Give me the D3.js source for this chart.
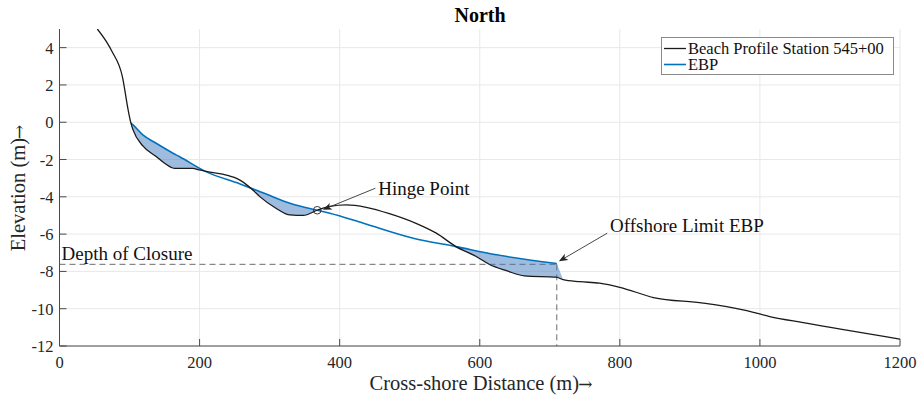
<!DOCTYPE html>
<html>
<head>
<meta charset="utf-8">
<script src="https://cdn.jsdelivr.net/npm/d3@7"></script>
<style>
  html, body { margin: 0; padding: 0; background: #fff; }
  svg { display: block; font-family: "Liberation Serif", "DejaVu Serif", serif; }
</style>
</head>
<body>
<svg id="chart" width="921" height="399"></svg>
<script>
// Surveyed beach profile (cross-shore distance in m, elevation in m)
const profileX = [54, 67, 75, 90, 98, 102, 105, 119, 138, 150, 164, 190, 200, 219, 238, 257, 276, 286, 309, 329, 348, 368, 386, 409, 438, 471, 509, 538, 566, 595, 614, 638, 664, 709, 719, 743, 771, 800, 848, 919, 976, 1014, 1062, 1200];
const profileY = [5.0, 4.32, 3.79, 2.41, 0.66, -0.05, -0.41, -1.27, -1.84, -2.2, -2.47, -2.47, -2.56, -2.7, -2.83, -3.09, -3.63, -3.99, -4.61, -4.97, -5.0, -4.72, -4.51, -4.43, -4.56, -4.9, -5.42, -5.95, -6.67, -7.2, -7.63, -7.96, -8.24, -8.31, -8.44, -8.55, -8.63, -8.85, -9.4, -9.7, -10.06, -10.42, -10.75, -11.63];

// Equilibrium beach profile (EBP)
const ebpX = [102, 105, 119, 138, 162, 171, 209, 257, 295, 329, 368, 386, 434, 505, 566, 624, 710];
const ebpY = [-0.05, -0.14, -0.68, -1.13, -1.66, -1.84, -2.65, -3.3, -3.85, -4.34, -4.72, -4.88, -5.42, -6.22, -6.67, -7.11, -7.58];

// Axis ticks
const xTicks = [0, 200, 400, 600, 800, 1000, 1200];
const yTicks = [-12, -10, -8, -6, -4, -2, 0, 2, 4];
const yTickLabels = ["-12", "-10", "-8", "-6", "-4", "-2", "0", "2", "4"];

// Reference levels and annotated points
const depthOfClosure = -7.62;
const hingePoint = [368, -4.72];
const offshoreLimit = [710, -7.58];
const fillEnd = [719, -8.44];
const hingeLabel = { text: "Hinge Point", at: [455, -3.9], tail: [451, -3.54], tip: [376, -4.69] };
const offshoreLabel = { text: "Offshore Limit EBP", at: [786, -5.88], tail: [782, -5.95], tip: [713, -7.46] };
const closureLabel = { text: "Depth of Closure", at: [3, -7.4] };

const titleText = "North";
const xLabel = "Cross-shore Distance (m)";
const yLabel = "Elevation (m)";
const arrowGlyph = "\u2192";
const legendLabels = ["Beach Profile Station 545+00", "EBP"];

const colBlue = "#0072BD";
const colAxis = "#4a4a4a";
const colGrid = "#e8e8e8";

const svg = d3.select("#chart");
const defs = svg.append("defs");
const x = d3.scaleLinear().domain([0, 1200]).range([59.5, 900]);
const y = d3.scaleLinear().domain([-12, 5]).range([346, 29]);

const profile = profileX.map((d, i) => [d, profileY[i]]);
const ebp = ebpX.map((d, i) => [d, ebpY[i]]);

// grid
const grid = svg.append("g");
grid.selectAll(".gx").data(xTicks).join("line")
  .attr("x1", d => x(d)).attr("x2", d => x(d))
  .attr("y1", y(-12)).attr("y2", y(5))
  .attr("stroke", colGrid).attr("stroke-width", 1);
grid.selectAll(".gy").data(yTicks).join("line")
  .attr("x1", x(0)).attr("x2", x(1200))
  .attr("y1", d => y(d)).attr("y2", d => y(d))
  .attr("stroke", colGrid).attr("stroke-width", 1);

defs.append("clipPath").attr("id", "plotclip")
  .append("rect").attr("x", x(0)).attr("y", y(5)).attr("width", x(1200) - x(0)).attr("height", y(-12) - y(5));

const line = d3.line().x(d => x(d[0])).y(d => y(d[1])).curve(d3.curveMonotoneX);

// region lying above the surveyed profile (used to keep only the EBP-over-profile parts)
const profilePath = line(profile);
defs.append("clipPath").attr("id", "aboveProfile")
  .append("path")
  .attr("d", profilePath + `L${x(1200)},${y(5) - 20}L${x(0) - 20},${y(5) - 20}Z`);

const plot = svg.append("g").attr("clip-path", "url(#plotclip)");

// reference dashed lines for depth of closure / offshore limit
plot.append("line")
  .attr("x1", x(0)).attr("x2", x(offshoreLimit[0]))
  .attr("y1", y(depthOfClosure)).attr("y2", y(depthOfClosure))
  .attr("stroke", "#6b6b6b").attr("stroke-width", 1).attr("stroke-dasharray", "6,4");
plot.append("line")
  .attr("x1", x(offshoreLimit[0])).attr("x2", x(offshoreLimit[0]))
  .attr("y1", y(depthOfClosure)).attr("y2", y(-12))
  .attr("stroke", "#6b6b6b").attr("stroke-width", 1).attr("stroke-dasharray", "6,4");

// shaded area: below the EBP and above the surveyed profile
const underEbp = line(ebp) +
  `L${x(fillEnd[0])},${y(fillEnd[1])}L${x(fillEnd[0])},${y(-12)}L${x(ebpX[0])},${y(-12)}Z`;
plot.append("g").attr("clip-path", "url(#aboveProfile)")
  .append("path")
  .attr("d", underEbp)
  .attr("fill", "#4078be").attr("fill-opacity", 0.5).attr("stroke", "none");

plot.append("path").attr("d", line(ebp))
  .attr("fill", "none").attr("stroke", colBlue).attr("stroke-width", 1.6);
plot.append("path").attr("d", profilePath)
  .attr("fill", "none").attr("stroke", "#1a1a1a").attr("stroke-width", 1.3);

// hinge point marker
plot.append("circle")
  .attr("cx", x(hingePoint[0])).attr("cy", y(hingePoint[1])).attr("r", 3.8)
  .attr("fill", "none").attr("stroke", "#222").attr("stroke-width", 0.9);

// axes: left and bottom lines with inward ticks
const ax = svg.append("g");
ax.append("line").attr("x1", x(0)).attr("x2", x(1200)).attr("y1", y(-12)).attr("y2", y(-12))
  .attr("stroke", colAxis).attr("stroke-width", 1);
ax.append("line").attr("x1", x(0)).attr("x2", x(0)).attr("y1", y(-12)).attr("y2", y(5))
  .attr("stroke", colAxis).attr("stroke-width", 1);
ax.selectAll(".tx").data(xTicks).join("line")
  .attr("x1", d => x(d)).attr("x2", d => x(d)).attr("y1", y(-12)).attr("y2", y(-12) - 7)
  .attr("stroke", colAxis).attr("stroke-width", 1);
ax.selectAll(".ty").data(yTicks).join("line")
  .attr("x1", x(0)).attr("x2", x(0) + 7).attr("y1", d => y(d)).attr("y2", d => y(d))
  .attr("stroke", colAxis).attr("stroke-width", 1);

ax.selectAll(".lx").data(xTicks).join("text")
  .attr("x", d => x(d)).attr("y", y(-12) + 22)
  .attr("text-anchor", "middle").attr("font-size", 16.5).attr("fill", "#262626")
  .text(d => d);
ax.selectAll(".ly").data(yTicks).join("text")
  .attr("x", x(0) - 6).attr("y", d => y(d) + 6)
  .attr("text-anchor", "end").attr("font-size", 16.5).attr("fill", "#262626")
  .text((d, i) => yTickLabels[i]);

// axis titles and chart title
function axisTitle(sel, label) {
  sel.append("tspan").text(label);
  sel.append("tspan").attr("font-family", "DejaVu Serif").attr("font-size", 17).attr("dx", -1).text(arrowGlyph);
}
svg.append("text").attr("x", 481).attr("y", 390).attr("text-anchor", "middle")
  .attr("font-size", 20.5).attr("fill", "#262626").call(axisTitle, xLabel);
svg.append("text").attr("transform", "translate(25,188) rotate(-90)").attr("text-anchor", "middle")
  .attr("font-size", 20.5).attr("fill", "#262626").call(axisTitle, yLabel);
svg.append("text").attr("x", 480).attr("y", 22).attr("text-anchor", "middle")
  .attr("font-size", 20).attr("font-weight", "bold").attr("fill", "#000").text(titleText);

// annotations
function arrow(a) {
  const x1 = x(a.tail[0]), y1 = y(a.tail[1]), x2 = x(a.tip[0]), y2 = y(a.tip[1]);
  const ang = Math.atan2(y2 - y1, x2 - x1);
  const L = 9, W = 3.6, back = 6.5;
  const bx = x2 - L * Math.cos(ang), by = y2 - L * Math.sin(ang);
  const nx = -Math.sin(ang), ny = Math.cos(ang);
  const mx = x2 - back * Math.cos(ang), my = y2 - back * Math.sin(ang);
  svg.append("line").attr("x1", x1).attr("y1", y1).attr("x2", mx).attr("y2", my)
    .attr("stroke", "#333").attr("stroke-width", 0.9);
  svg.append("path")
    .attr("d", `M${x2},${y2}L${bx + nx * W},${by + ny * W}L${mx},${my}L${bx - nx * W},${by - ny * W}Z`)
    .attr("fill", "#222");
  svg.append("text").attr("x", x(a.at[0])).attr("y", y(a.at[1]))
    .attr("font-size", 19).attr("fill", "#111").text(a.text);
}
arrow(hingeLabel);
arrow(offshoreLabel);
svg.append("text").attr("x", x(closureLabel.at[0])).attr("y", y(closureLabel.at[1]))
  .attr("font-size", 19).attr("fill", "#111").text(closureLabel.text);

// legend
const lg = svg.append("g");
lg.append("rect").attr("x", 661.5).attr("y", 37.5).attr("width", 232).attr("height", 37)
  .attr("fill", "#fff").attr("stroke", "#8a8a8a").attr("stroke-width", 1);
const legendColors = ["#1a1a1a", colBlue];
legendLabels.forEach((t, i) => {
  const cy = 48.5 + i * 16;
  lg.append("line").attr("x1", 664).attr("x2", 686).attr("y1", cy).attr("y2", cy)
    .attr("stroke", legendColors[i]).attr("stroke-width", i === 1 ? 1.6 : 1.3);
  lg.append("text").attr("x", 688).attr("y", cy + 5.5).attr("font-size", 16.5)
    .attr("fill", "#111").text(t);
});
</script>
</body>
</html>
